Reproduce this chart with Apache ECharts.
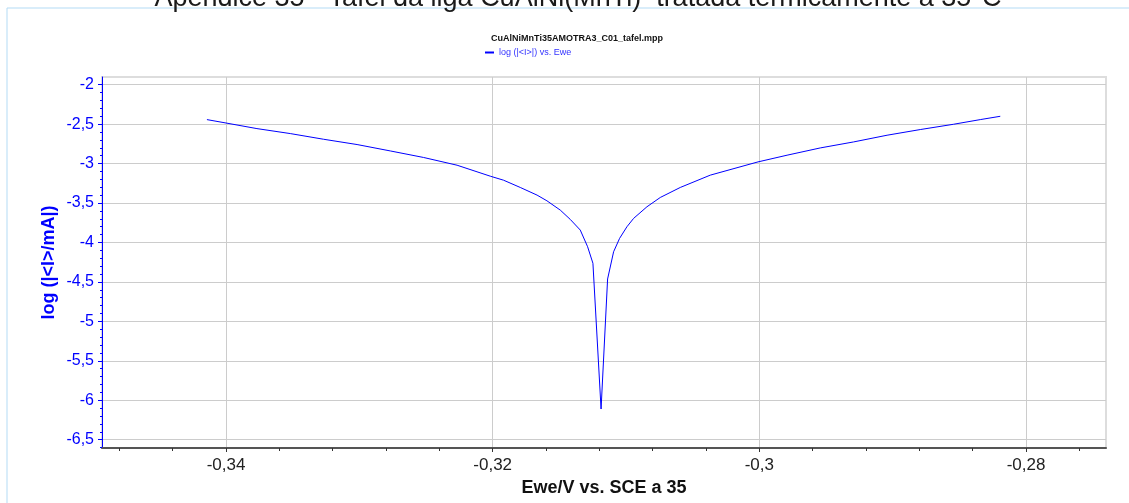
<!DOCTYPE html>
<html>
<head>
<meta charset="utf-8">
<script src="https://cdn.jsdelivr.net/npm/echarts@6/dist/echarts.min.js"></script>
<style>
  html, body { margin: 0; padding: 0; background: #ffffff; }
  #chart { width: 1129px; height: 503px; }
</style>
</head>
<body>
<div id="chart"></div>
<script>
// Tafel scan: potential (V vs. SCE) and log10 of |current| (mA)
const potential = [
  -0.34143, -0.34000, -0.33768, -0.33518, -0.33268, -0.33017, -0.32768,
  -0.32518, -0.32267, -0.32018, -0.31918, -0.31793, -0.31667, -0.31593,
  -0.31493, -0.31418, -0.31343, -0.31288, -0.31248, -0.31187, -0.31138,
  -0.31093, -0.31048, -0.30993, -0.30943, -0.30843, -0.30743, -0.30593,
  -0.30368, -0.30010, -0.29792, -0.29543, -0.29293, -0.29042, -0.28793,
  -0.28543, -0.28343, -0.28193
];
const logCurrent = [
  -2.443, -2.486, -2.557, -2.620, -2.692, -2.759, -2.840,
  -2.923, -3.021, -3.160, -3.211, -3.303, -3.400, -3.472,
  -3.590, -3.708, -3.843, -4.054, -4.264, -6.111, -4.463,
  -4.118, -3.948, -3.801, -3.695, -3.548, -3.430, -3.303,
  -3.147, -2.979, -2.894, -2.802, -2.726, -2.641, -2.569,
  -2.502, -2.443, -2.401
];

// Axis ticks
const xMajorTicks = [-0.34, -0.32, -0.30, -0.28];
const yMajorTicks = [-6.5, -6, -5.5, -5, -4.5, -4, -3.5, -3, -2.5, -2];
const xMinorTicks = [];
for (let i = -87; i <= -69; i++) xMinorTicks.push(+(i * 0.004).toFixed(3));
const yMinorTicks = [];
for (let i = -66; i <= -20; i++) yMinorTicks.push(+(i * 0.1).toFixed(1));

const xRange = [-0.3493, -0.274];
const yRange = [-6.605, -1.903];

const decimalComma = v => String(+v.toFixed(4)).replace('.', ',');

const points = potential.map((x, i) => [x, logCurrent[i]]);

const BLUE = '#0000ff';
const FONT = 'Liberation Sans, Arial, sans-serif';

const chart = echarts.init(document.getElementById('chart'), null, { renderer: 'canvas' });

chart.setOption({
  animation: false,
  backgroundColor: '#ffffff',
  graphic: [{
    type: 'rect',
    z: -10,
    shape: { x: 7, y: 8, width: 1300, height: 700 },
    style: { fill: 'none', stroke: '#b3dbf5', lineWidth: 1 }
  }],
  title: [
    {
      text: 'Apendice 35 - Tafel da liga CuAlNi(MnTi)  tratada termicamente a 35°C',
      left: 573, top: -20, textAlign: 'center',
      textStyle: { fontFamily: FONT, fontSize: 27, fontWeight: 'normal', color: '#1a1a1a' }
    },
    {
      text: 'CuAlNiMnTi35AMOTRA3_C01_tafel.mpp',
      left: 572, top: 29, textAlign: 'center',
      textStyle: { fontFamily: FONT, fontSize: 9, fontWeight: 'bold', color: '#111111' }
    }
  ],
  legend: {
    left: 480, top: 43,
    icon: 'rect', itemWidth: 9, itemHeight: 2, itemGap: 4,
    textStyle: { fontFamily: FONT, fontSize: 9, color: '#3333ff' }
  },
  grid: {
    left: 102, top: 77, right: 23, bottom: 55,
    show: true, borderColor: '#dddddd', borderWidth: 2
  },
  xAxis: [
    {
      type: 'value', min: xRange[0], max: xRange[1], position: 'bottom',
      name: 'Ewe/V vs. SCE a 35', nameLocation: 'middle', nameGap: 30,
      nameTextStyle: { fontFamily: FONT, fontSize: 18, fontWeight: 'bold', color: '#111111' },
      axisLine: { show: true, lineStyle: { color: '#555555', width: 2 } },
      axisTick: { show: true, customValues: xMajorTicks, length: 4, lineStyle: { color: '#333333' } },
      axisLabel: {
        customValues: xMajorTicks, margin: 9, formatter: decimalComma,
        fontFamily: FONT, fontSize: 17, color: '#222222'
      },
      splitLine: { show: true, lineStyle: { color: '#cccccc', width: 1 } }
    },
    {
      type: 'value', min: xRange[0], max: xRange[1], position: 'bottom',
      axisLine: { show: false },
      axisTick: { show: true, customValues: xMinorTicks, length: 3, lineStyle: { color: '#333333' } },
      axisLabel: { show: false },
      splitLine: { show: false }
    }
  ],
  yAxis: [
    {
      type: 'value', min: yRange[0], max: yRange[1], position: 'left',
      name: 'log (|<I>/mA|)', nameLocation: 'middle', nameRotate: 90, nameGap: 44,
      nameMoveOverlap: false,
      nameTextStyle: { fontFamily: FONT, fontSize: 18, fontWeight: 'bold', color: BLUE },
      axisLine: { show: true, lineStyle: { color: BLUE, width: 1 } },
      axisTick: { show: true, customValues: yMajorTicks, length: 4, lineStyle: { color: BLUE } },
      axisLabel: {
        customValues: yMajorTicks, margin: 8, formatter: decimalComma,
        fontFamily: FONT, fontSize: 16, color: BLUE
      },
      splitLine: { show: true, lineStyle: { color: '#cccccc', width: 1 } }
    },
    {
      type: 'value', min: yRange[0], max: yRange[1], position: 'left',
      axisLine: { show: false },
      axisTick: { show: true, customValues: yMinorTicks, length: 2, lineStyle: { color: BLUE } },
      axisLabel: { show: false },
      splitLine: { show: false }
    }
  ],
  series: [{
    name: 'log (|<I>|) vs. Ewe',
    type: 'line',
    xAxisIndex: 0, yAxisIndex: 0,
    data: points,
    showSymbol: false,
    symbol: 'none',
    lineStyle: { color: BLUE, width: 1 },
    itemStyle: { color: BLUE },
    z: 5
  }]
});
</script>
</body>
</html>
